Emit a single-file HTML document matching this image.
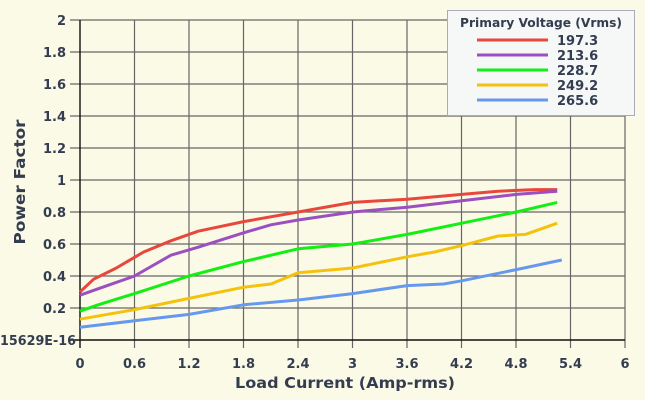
<!DOCTYPE html>
<html><head><style>
html,body{margin:0;padding:0;background:#fbfae6;}
svg{display:block;font-family:"DejaVu Sans","Liberation Sans",sans-serif;}
</style></head><body>
<svg width="645" height="400" xmlns="http://www.w3.org/2000/svg">
<rect width="645" height="400" fill="#fbfae6"/>
<g stroke="#666" stroke-width="1.2">
<line x1="70" y1="20" x2="625" y2="20"/><line x1="70" y1="52" x2="625" y2="52"/><line x1="70" y1="84" x2="625" y2="84"/>
<line x1="70" y1="116" x2="625" y2="116"/><line x1="70" y1="148" x2="625" y2="148"/><line x1="70" y1="180" x2="625" y2="180"/>
<line x1="70" y1="212" x2="625" y2="212"/><line x1="70" y1="244" x2="625" y2="244"/><line x1="70" y1="276" x2="625" y2="276"/>
<line x1="70" y1="308" x2="625" y2="308"/>
<line x1="134.5" y1="20" x2="134.5" y2="348"/><line x1="189" y1="20" x2="189" y2="348"/><line x1="243.5" y1="20" x2="243.5" y2="348"/>
<line x1="298" y1="20" x2="298" y2="348"/><line x1="352.5" y1="20" x2="352.5" y2="348"/><line x1="407" y1="20" x2="407" y2="348"/>
<line x1="461.5" y1="20" x2="461.5" y2="348"/><line x1="516" y1="20" x2="516" y2="348"/><line x1="570.5" y1="20" x2="570.5" y2="348"/>
<line x1="625" y1="20" x2="625" y2="348"/>
</g>
<g stroke="#111" stroke-width="1.4"><line x1="80" y1="20" x2="80" y2="348"/><line x1="70" y1="340" x2="625" y2="340"/></g>
<g font-size="13" font-weight="bold" fill="#333d4f" text-anchor="end">
<text x="66" y="25">2</text><text x="66" y="57">1.8</text><text x="66" y="89">1.6</text><text x="66" y="121">1.4</text>
<text x="66" y="153">1.2</text><text x="66" y="185">1</text><text x="66" y="217">0.8</text><text x="66" y="249">0.6</text>
<text x="66" y="281">0.4</text><text x="66" y="313">0.2</text><text x="76" y="345" textLength="76" lengthAdjust="spacingAndGlyphs">15629E-16</text>
</g>
<g font-size="13" font-weight="bold" fill="#333d4f" text-anchor="middle">
<text x="80" y="368">0</text><text x="134.5" y="368">0.6</text><text x="189" y="368">1.2</text><text x="243.5" y="368">1.8</text>
<text x="298" y="368">2.4</text><text x="352.5" y="368">3</text><text x="407" y="368">3.6</text><text x="461.5" y="368">4.2</text>
<text x="516" y="368">4.8</text><text x="570.5" y="368">5.4</text><text x="625" y="368">6</text>
</g>
<text x="345" y="388" font-size="15" font-weight="bold" fill="#333d4f" text-anchor="middle" textLength="220" lengthAdjust="spacingAndGlyphs">Load Current (Amp-rms)</text>
<text transform="translate(25,182) rotate(-90)" font-size="15" font-weight="bold" fill="#333d4f" text-anchor="middle" textLength="125" lengthAdjust="spacingAndGlyphs">Power Factor</text>
<g transform="translate(80,340) scale(90.9,-160)" fill="none" stroke-width="3" stroke-linejoin="round">
<polyline vector-effect="non-scaling-stroke" stroke="#e8473c" points="0,0.30 0.15,0.38 0.4,0.45 0.7,0.55 1.0,0.62 1.3,0.68 1.8,0.74 2.4,0.80 3.0,0.86 3.6,0.88 4.2,0.91 4.6,0.93 5.0,0.94 5.25,0.94"/>
<polyline vector-effect="non-scaling-stroke" stroke="#9b4fc0" points="0,0.28 0.3,0.34 0.6,0.40 1.0,0.53 1.3,0.58 1.8,0.67 2.1,0.72 2.4,0.75 3.0,0.80 3.6,0.83 4.2,0.87 4.8,0.91 5.25,0.93"/>
<polyline vector-effect="non-scaling-stroke" stroke="#13ee13" points="0,0.18 0.2,0.22 0.6,0.29 1.2,0.40 1.8,0.49 2.4,0.57 3.0,0.60 3.6,0.66 4.2,0.73 4.8,0.80 5.25,0.86"/>
<polyline vector-effect="non-scaling-stroke" stroke="#f4c20d" points="0,0.13 0.6,0.19 1.2,0.26 1.8,0.33 2.1,0.35 2.4,0.42 3.0,0.45 3.6,0.52 3.9,0.55 4.2,0.59 4.6,0.65 4.9,0.66 5.25,0.73"/>
<polyline vector-effect="non-scaling-stroke" stroke="#6699ee" points="0,0.08 0.6,0.12 1.2,0.16 1.8,0.22 2.4,0.25 3.0,0.29 3.6,0.34 4.0,0.35 4.2,0.37 4.8,0.44 5.3,0.50"/>
</g>
<rect x="447.5" y="10.5" width="187" height="105" fill="#f6f7f7" stroke="#aab" stroke-width="1"/>
<text x="541" y="27" font-size="12" font-weight="bold" fill="#333d4f" text-anchor="middle" textLength="162" lengthAdjust="spacingAndGlyphs">Primary Voltage (Vrms)</text>
<g stroke-width="3">
<line x1="477" y1="40" x2="548" y2="40" stroke="#e8473c"/><line x1="477" y1="55" x2="548" y2="55" stroke="#9b4fc0"/>
<line x1="477" y1="70" x2="548" y2="70" stroke="#13ee13"/><line x1="477" y1="85" x2="548" y2="85" stroke="#f4c20d"/>
<line x1="477" y1="100" x2="548" y2="100" stroke="#6699ee"/>
</g>
<g font-size="13" font-weight="bold" fill="#333d4f">
<text x="557" y="45">197.3</text><text x="557" y="60">213.6</text><text x="557" y="75">228.7</text><text x="557" y="90">249.2</text><text x="557" y="105">265.6</text>
</g>
</svg>
</body></html>
